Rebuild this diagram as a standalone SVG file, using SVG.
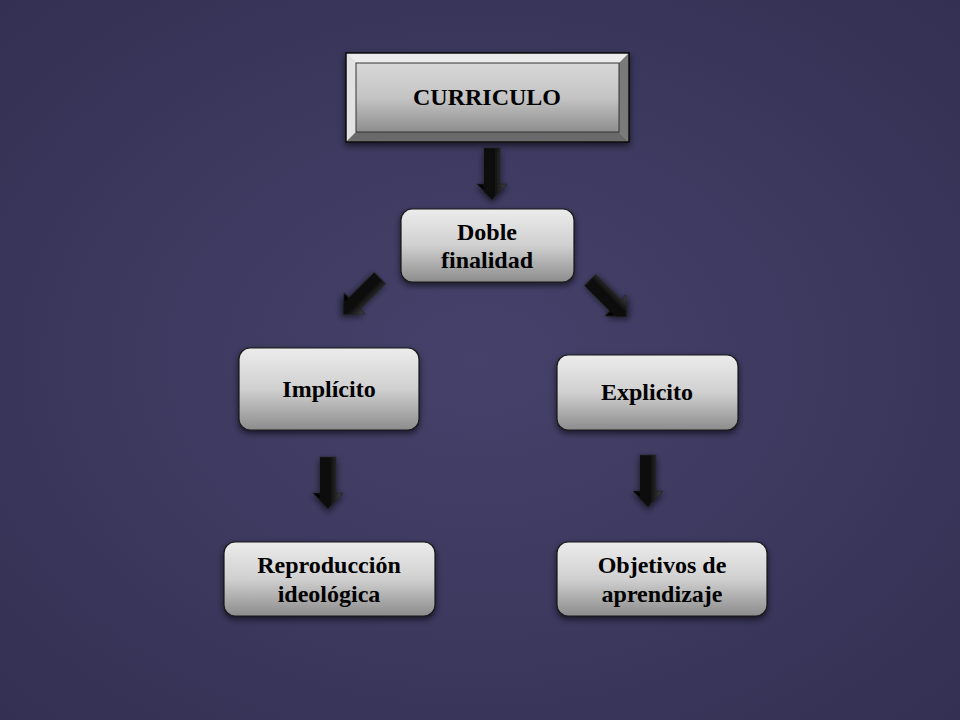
<svg xmlns="http://www.w3.org/2000/svg" width="960" height="720" viewBox="0 0 960 720">
<defs>
<radialGradient id="bg" cx="0.5" cy="0.5" r="0.75">
<stop offset="0" stop-color="#45416a"/>
<stop offset="1" stop-color="#332f52"/>
</radialGradient>
<linearGradient id="box" x1="0" y1="0" x2="0" y2="1">
<stop offset="0" stop-color="#ececec"/>
<stop offset="0.5" stop-color="#d0d0d0"/>
<stop offset="1" stop-color="#8c8c8c"/>
</linearGradient>
<linearGradient id="face" x1="0" y1="0" x2="0" y2="1">
<stop offset="0" stop-color="#d8d8d8"/>
<stop offset="0.5" stop-color="#c4c4c4"/>
<stop offset="1" stop-color="#8e8e8e"/>
</linearGradient>
<linearGradient id="arr" x1="0" y1="0" x2="1" y2="0">
<stop offset="0" stop-color="#000"/>
<stop offset="0.6" stop-color="#111"/>
<stop offset="1" stop-color="#444"/>
</linearGradient>
<filter id="sh" x="-20%" y="-20%" width="140%" height="150%">
<feDropShadow dx="0" dy="3" stdDeviation="3" flood-color="#000" flood-opacity="0.6"/>
</filter>
<path id="darrow" d="M-8,0 H8 V36 H15 L0,52 L-15,36 H-8 Z"/>
</defs>
<style>
.t{font-family:"Liberation Serif","DejaVu Serif",serif;font-weight:bold;font-size:24px;fill:#000;text-anchor:middle}
.bx{fill:url(#box);stroke:#1a1a1a;stroke-width:1.2;filter:url(#sh)}
.ar{fill:url(#arr);stroke:#222;stroke-width:0.8;filter:url(#sh)}
</style>
<rect width="960" height="720" fill="url(#bg)"/>

<g id="connectors">
<use href="#darrow" class="ar" transform="translate(492,148)"/>
<use href="#darrow" class="ar" transform="translate(380,278) rotate(45)"/>
<use href="#darrow" class="ar" transform="translate(590,280) rotate(-45)"/>
<use href="#darrow" class="ar" transform="translate(328,457)"/>
<use href="#darrow" class="ar" transform="translate(648,455)"/>
</g>

<g id="curriculo">
<rect x="346" y="53" width="283" height="89" fill="#bdbdbd" stroke="#111" stroke-width="1.5" filter="url(#sh)"/>
<polygon points="346,53 629,53 619,63 356,63" fill="#ececec"/>
<polygon points="346,53 356,63 356,132 346,142" fill="#e2e2e2"/>
<polygon points="629,53 629,142 619,132 619,63" fill="#7a7a7a"/>
<polygon points="346,142 629,142 619,132 356,132" fill="#6a6a6a"/>
<rect x="356" y="63" width="263" height="69" fill="url(#face)" stroke="#333" stroke-width="1"/>
<rect x="346" y="53" width="283" height="89" fill="none" stroke="#111" stroke-width="1.5"/>
<text class="t" x="487" y="105">CURRICULO</text>
</g>

<g id="doble">
<rect class="bx" x="401" y="209" width="173" height="73" rx="11"/>
<text class="t" x="487" y="240">Doble</text>
<text class="t" x="487" y="268">finalidad</text>
</g>

<g id="implicito">
<rect class="bx" x="239" y="348" width="180" height="82" rx="11"/>
<text class="t" x="329" y="397">Implícito</text>
</g>

<g id="explicito">
<rect class="bx" x="557" y="355" width="181" height="75" rx="11"/>
<text class="t" x="647" y="400">Explicito</text>
</g>

<g id="reproduccion">
<rect class="bx" x="224" y="542" width="211" height="74" rx="11"/>
<text class="t" x="329" y="573">Reproducción</text>
<text class="t" x="329" y="602">ideológica</text>
</g>

<g id="objetivos">
<rect class="bx" x="557" y="542" width="210" height="74" rx="11"/>
<text class="t" x="662" y="573">Objetivos de</text>
<text class="t" x="662" y="602">aprendizaje</text>
</g>
</svg>
